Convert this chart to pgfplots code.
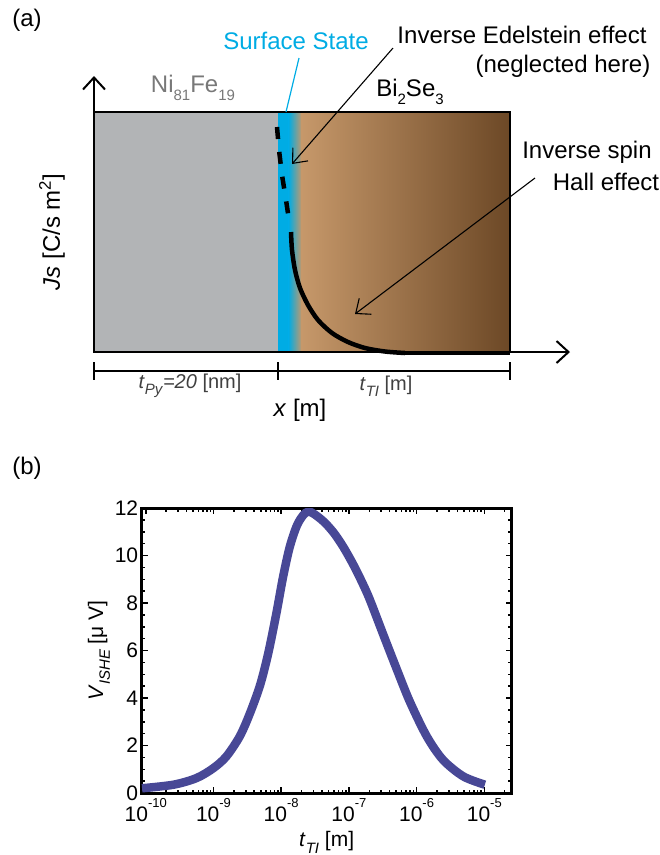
\documentclass[border=0pt]{standalone}
\usepackage{fontspec}
\setmainfont{Liberation Sans}
\usepackage{pgfplots}
\pgfplotsset{compat=1.18}
\usetikzlibrary{arrows.meta}

\definecolor{pygray}{RGB}{178,180,182}
\definecolor{ssblue}{RGB}{0,172,228}
\definecolor{tanbr}{RGB}{198,152,106}
\definecolor{darkbr}{RGB}{108,72,38}
\definecolor{vline}{RGB}{72,72,150}
\definecolor{txtgray}{RGB}{120,120,120}

\newcommand{\lbl}{\fontsize{24}{28}\selectfont}
\newcommand{\sub}[1]{\raisebox{-0.32em}{\fontsize{15}{15}\selectfont #1}}
\newcommand{\ex}[1]{10\raisebox{0.66em}{\fontsize{13}{13}\selectfont #1}}

\begin{document}
\begin{tikzpicture}
\path[use as bounding box] (0pt,0pt) rectangle (660pt,-855pt);

% ---- panel (a): schematic, axis units = pixels, y downwards
\begin{axis}[
  at={(0pt,0pt)}, anchor=north west,
  scale only axis, width=660pt, height=430pt,
  xmin=0, xmax=660, ymin=0, ymax=430, y dir=reverse,
  hide axis, clip=false,
]
\fill[pygray] (axis cs:94,112) rectangle (axis cs:278,352);
\fill[ssblue] (axis cs:278,112) rectangle (axis cs:289,352);
\shade[left color=ssblue, right color=tanbr] (axis cs:288.5,112) rectangle (axis cs:302,352);
\shade[left color=tanbr, right color=darkbr] (axis cs:301.5,112) rectangle (axis cs:510,352);
\draw[line width=2.5pt] (axis cs:94,112) rectangle (axis cs:510,352);

% axes arrows
\draw[line width=2pt, -{Straight Barb[length=12pt,width=22pt]}] (axis cs:94,352) -- (axis cs:94,76);
\draw[line width=2pt, -{Straight Barb[length=12pt,width=22pt]}] (axis cs:94,352) -- (axis cs:570,352);

% thickness bracket
\draw[line width=2.5pt] (axis cs:94,371) -- (axis cs:510,371);
\draw[line width=2.5pt] (axis cs:94,362) -- (axis cs:94,380);
\draw[line width=2.5pt] (axis cs:278,362) -- (axis cs:278,380);
\draw[line width=2.5pt] (axis cs:510,362) -- (axis cs:510,380);

% spin current profile
\addplot[black, line width=4.5pt, dash pattern=on 12pt off 13pt] coordinates {
  (277,127) (279,150) (282,175) (286,200) (289,220)};
\addplot[black, line width=4.5pt, smooth] coordinates {
  (291,232) (292,250) (295,270) (300,288) (308,305) (318,320) (332,333)
  (348,342) (365,348) (385,351.5) (405,353)};
\addplot[black, line width=4.5pt] coordinates {(404,353) (510,353)};

% surface state marker
\draw[ssblue, line width=1.2pt] (axis cs:299,58) -- (axis cs:286,112);
\node[ssblue, font=\lbl] at (axis cs:296,41) {Surface State};

% annotation arrows
\draw[line width=1.1pt, -{Straight Barb[length=12pt,width=20pt]}] (axis cs:393,48) -- (axis cs:292,164);
\draw[line width=1.1pt, -{Straight Barb[length=12pt,width=20pt]}] (axis cs:535,178) -- (axis cs:355,314);

% labels
\node[font=\lbl] at (axis cs:27,20) {(a)};
\node[txtgray, font=\lbl] at (axis cs:193,88) {Ni\sub{81}Fe\sub{19}};
\node[font=\lbl] at (axis cs:410,92) {Bi\sub{2}Se\sub{3}};
\node[font=\lbl] at (axis cs:522,35) {Inverse Edelstein effect};
\node[font=\lbl] at (axis cs:563,66) {(neglected here)};
\node[font=\lbl] at (axis cs:587,152) {Inverse spin};
\node[font=\lbl] at (axis cs:606,182) {Hall effect};
\node[font=\lbl, rotate=90] at (axis cs:52,232) {\textit{Js} [C/s m\textsuperscript{2}]};
\node[font=\fontsize{20}{22}\selectfont, text=black!75] at (axis cs:190,386) {\textit{t}\sub{\textit{Py}}\textit{=20} [nm]};
\node[font=\fontsize{20}{22}\selectfont, text=black!75] at (axis cs:386,386) {\textit{t}\sub{\textit{TI}} [m]};
\node[font=\lbl] at (axis cs:300,410) {\textit{x} [m]};
\node[font=\lbl] at (axis cs:27,468) {(b)};
\end{axis}

% ---- panel (b): V_ISHE vs t_TI
\begin{axis}[
  at={(141.7pt,-793pt)}, anchor=south west,
  scale only axis, width=370pt, height=285pt,
  xmode=log, xmin=8.7e-11, xmax=2.54e-5,
  ymin=0, ymax=12,
  xtick={1e-10,1e-9,1e-8,1e-7,1e-6,1e-5},
  xticklabels={\ex{-10},\ex{-9},\ex{-8},\ex{-7},\ex{-6},\ex{-5}},
  minor xtick={2e-10,3e-10,4e-10,5e-10,6e-10,7e-10,8e-10,9e-10,
    2e-9,3e-9,4e-9,5e-9,6e-9,7e-9,8e-9,9e-9,
    2e-8,3e-8,4e-8,5e-8,6e-8,7e-8,8e-8,9e-8,
    2e-7,3e-7,4e-7,5e-7,6e-7,7e-7,8e-7,9e-7,
    2e-6,3e-6,4e-6,5e-6,6e-6,7e-6,8e-6,9e-6,2e-5},
  ytick={0,2,4,6,8,10,12},
  minor y tick num=3,
  /pgf/number format/assume math mode=true,
  tick align=inside,
  major tick length=6pt, minor tick length=3.5pt,
  every tick/.style={black, line width=1.5pt},
  axis line style={line width=3pt},
  ticklabel style={font=\fontsize{21}{23}\selectfont},
  xticklabel style={yshift=-2pt},
  xlabel={\textit{t}\sub{\textit{TI}} [m]},
  ylabel={\textit{V}\sub{\textit{ISHE}} [μ V]},
  label style={font=\fontsize{21}{24}\selectfont},
  xlabel style={yshift=-3pt},
  ylabel style={yshift=-2pt},
]
\addplot[vline, line width=8.5pt, smooth] coordinates {
  (8.8e-11,0.2) (2.57e-10,0.35) (5.62e-10,0.63) (1.0e-9,1.05) (1.55e-9,1.54)
  (2.45e-9,2.39) (3.47e-9,3.37) (4.90e-9,4.56) (6.46e-9,5.9) (8.51e-9,7.58)
  (1.07e-8,9.12) (1.35e-8,10.4) (1.78e-8,11.37) (2.5e-8,11.85) (3.98e-8,11.5)
  (5.89e-8,10.98) (8.32e-8,10.35) (1.17e-7,9.6) (1.58e-7,8.85) (2.04e-7,8.14)
  (3.24e-7,6.65) (5.13e-7,5.19) (7.94e-7,3.85) (1.41e-6,2.39) (2.45e-6,1.40)
  (4.90e-6,0.70) (1.02e-5,0.35)};
\end{axis}
\end{tikzpicture}
\end{document}
